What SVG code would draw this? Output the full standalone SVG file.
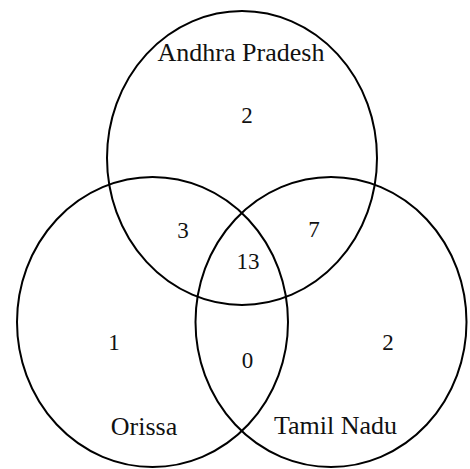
<svg xmlns="http://www.w3.org/2000/svg" width="470" height="469" viewBox="0 0 470 469">
<style>
.set{fill:none;stroke:#000;stroke-width:2}
.lbl{font-family:"Liberation Serif","Times New Roman",serif;font-size:26px;fill:#111;text-anchor:middle}
.num{font-family:"Liberation Serif","Times New Roman",serif;font-size:23px;fill:#111;text-anchor:middle}
</style>
<rect width="470" height="469" fill="#fff"/>
<g id="andhra-pradesh">
<ellipse class="set" cx="242" cy="158" rx="135" ry="147"/>
<text class="lbl" x="241" y="61">Andhra Pradesh</text>
</g>
<g id="orissa">
<ellipse class="set" cx="152.5" cy="322" rx="135.5" ry="145"/>
<text class="lbl" x="144" y="435">Orissa</text>
</g>
<g id="tamil-nadu">
<ellipse class="set" cx="331" cy="322" rx="135.5" ry="145"/>
<text class="lbl" x="335.5" y="434">Tamil Nadu</text>
</g>
<g id="counts">
<text class="num" x="247" y="123">2</text>
<text class="num" x="183" y="238">3</text>
<text class="num" x="314" y="237">7</text>
<text class="num" x="248" y="269">13</text>
<text class="num" x="114" y="350">1</text>
<text class="num" x="247.5" y="368">0</text>
<text class="num" x="388" y="350">2</text>
</g>
</svg>
